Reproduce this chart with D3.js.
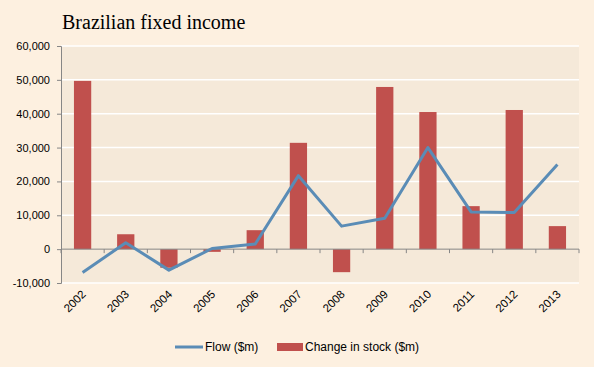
<!DOCTYPE html>
<head>
  <meta charset="utf-8">
  <title>Brazilian fixed income</title>
  <style>
    body { margin: 0; background: #fdf0e0; }
    svg { display: block; }
    .tick text { font-family: "Liberation Sans", Arial, sans-serif; font-size: 11px; fill: #000; }
  </style>
</head>
<body>
  <script src="https://cdn.jsdelivr.net/npm/d3@7/dist/d3.min.js"></script>
  <script>
    // data
    var years = ["2002","2003","2004","2005","2006","2007","2008","2009","2010","2011","2012","2013"];
    var stock = [49700, 4400, -5500, -800, 5600, 31400, -6800, 47900, 40500, 12700, 41100, 6800];
    var flow  = [-6900, 1900, -6200, 200, 1500, 21700, 6800, 9100, 30000, 11000, 10800, 25000];
    var yTicks = [-10000, 0, 10000, 20000, 30000, 40000, 50000, 60000];

    var W = 594, H = 367;
    var margin = {top: 46, right: 15, bottom: 84, left: 61},
        width = W - margin.left - margin.right,
        height = H - margin.top - margin.bottom;

    var svg = d3.select("body").append("svg")
        .attr("width", W)
        .attr("height", H);

    svg.append("rect").attr("width", W).attr("height", H).attr("fill", "#fdf0e0");

    // title
    svg.append("text")
        .attr("x", 62).attr("y", 29)
        .style("font-family", "'Liberation Serif', 'DejaVu Serif', serif")
        .style("font-size", "20px")
        .text("Brazilian fixed income");

    var g = svg.append("g").attr("transform", "translate(" + margin.left + "," + margin.top + ")");

    var x = d3.scaleBand().domain(years).range([0, width]);
    var y = d3.scaleLinear().domain([-10000, 60000]).range([height, 0]);

    // plot area
    g.append("rect").attr("width", width).attr("height", height).attr("fill", "#f5e9d9");

    // gridlines
    g.selectAll(".grid")
        .data(yTicks.filter(function(d) { return d !== 0; }))
        .enter().append("line")
        .attr("x1", 0).attr("x2", width)
        .attr("y1", function(d) { return y(d); })
        .attr("y2", function(d) { return y(d); })
        .attr("stroke", "#fff").attr("stroke-width", 1.5);

    // bars
    var bw = x.bandwidth() * 0.4;
    g.selectAll(".bar")
        .data(stock)
        .enter().append("rect")
        .attr("x", function(d, i) { return x(years[i]) + (x.bandwidth() - bw) / 2; })
        .attr("y", function(d) { return y(Math.max(0, d)); })
        .attr("width", bw)
        .attr("height", function(d) { return Math.abs(y(d) - y(0)); })
        .attr("fill", "#c0504d");

    // y axis
    var fmt = d3.format(",");
    var yAxis = g.append("g")
        .call(d3.axisLeft(y).tickValues(yTicks).tickSize(4).tickPadding(7)
          .tickFormat(function(d) { return fmt(d).replace("\u2212", "-"); }));
    yAxis.select(".domain").attr("stroke", "#868686");
    yAxis.selectAll(".tick line").attr("stroke", "#868686");

    // x axis line at zero with boundary ticks
    var xa = g.append("g").attr("transform", "translate(0," + y(0) + ")");
    xa.append("line").attr("x1", 0).attr("x2", width).attr("stroke", "#868686");
    xa.selectAll(".xt")
        .data(years.concat(["end"]))
        .enter().append("line")
        .attr("x1", function(d, i) { return i * x.step(); })
        .attr("x2", function(d, i) { return i * x.step(); })
        .attr("y1", 0).attr("y2", 4)
        .attr("stroke", "#868686");

    // x labels below plot
    g.selectAll(".xl")
        .data(years)
        .enter().append("text")
        .attr("transform", function(d) {
          return "translate(" + (x(d) + x.bandwidth() / 2 + 4) + "," + (height + 12) + ") rotate(-45)";
        })
        .style("text-anchor", "end")
        .style("font-family", "'Liberation Sans', Arial, sans-serif")
        .style("font-size", "11.5px")
        .text(function(d) { return d; });

    // flow line
    var line = d3.line()
        .x(function(d, i) { return x(years[i]) + x.bandwidth() / 2; })
        .y(function(d) { return y(d); });
    g.append("path")
        .datum(flow)
        .attr("d", line)
        .attr("fill", "none")
        .attr("stroke", "#5a8cb6")
        .attr("stroke-width", 3)
        .attr("stroke-linejoin", "round");

    // legend
    var lg = svg.append("g").style("font-family", "'Liberation Sans', Arial, sans-serif").style("font-size", "12px");
    lg.append("line").attr("x1", 175).attr("x2", 203).attr("y1", 347).attr("y2", 347)
        .attr("stroke", "#5a8cb6").attr("stroke-width", 3);
    lg.append("text").attr("x", 205).attr("y", 351).text("Flow ($m)");
    lg.append("rect").attr("x", 277).attr("y", 343).attr("width", 26).attr("height", 8).attr("fill", "#c0504d");
    lg.append("text").attr("x", 305).attr("y", 351).text("Change in stock ($m)");
  </script>
</body>
